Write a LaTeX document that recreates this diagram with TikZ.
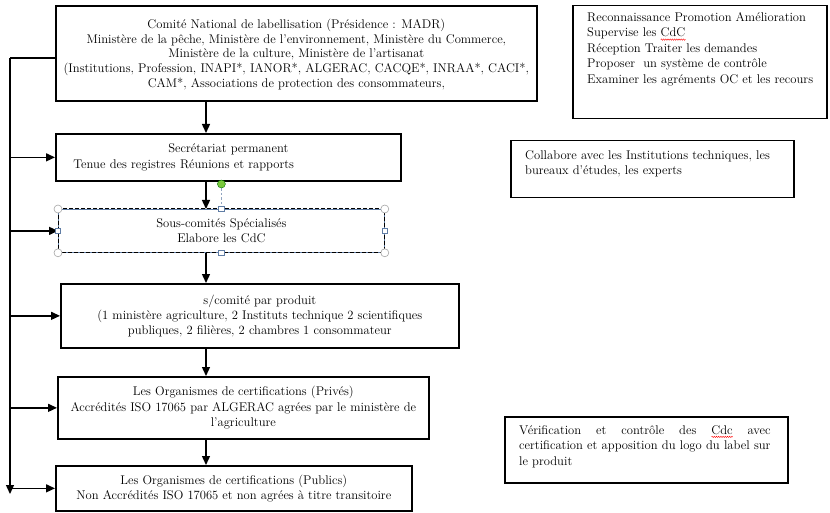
\documentclass[tikz,border=0pt]{standalone}
\usetikzlibrary{arrows.meta,decorations.pathmorphing}
\newcommand\bxf{\fontsize{12.6}{15.3}\selectfont}
\newcommand\bxfa{\fontsize{12.6}{14.8}\selectfont}
\newcommand\rxf{\fontsize{12.6}{15.6}\selectfont}
\newlength\wlen
\newcommand\rwave[1]{\settowidth\wlen{#1}\rlap{\tikz[baseline=0pt]\draw[red, line width=0.4pt, decorate, decoration={zigzag, segment length=2.2pt, amplitude=0.7pt}] (0pt,-2.8pt) -- (\wlen,-2.8pt);}#1}
\definecolor{hdl}{RGB}{96,125,165}
\definecolor{hgreen}{RGB}{122,200,60}
\newlength\rthw
\begin{document}
\settowidth\rthw{\rxf certification et apposition du logo du label sur}%
\addtolength\rthw{1pt}%
\begin{tikzpicture}[x=1pt,y=-1pt,
  bx/.style={draw, line width=1.7pt, inner sep=0pt, anchor=north west},
  rbx/.style={draw, line width=1.5pt, inner sep=0pt, anchor=north west},
  tx/.style={font=\bxf, inner sep=0pt, align=center},
  rtx/.style={font=\rxf, inner sep=0pt, align=left, anchor=north west},
  arr/.style={line width=1.4pt, -{Triangle[length=9pt,width=8pt]}},
  ln/.style={line width=1.4pt},
  crn/.style={circle, draw=gray!70, fill=white, line width=0.6pt, inner sep=0pt, minimum size=8pt},
  sqh/.style={rectangle, draw=hdl, fill=white, line width=0.6pt, inner sep=0pt, minimum size=5.5pt}]
\useasboundingbox (0,0) rectangle (830,513);
% main column boxes
\node[bx, minimum width=481pt, minimum height=95pt] (b1) at (55,5) {};
\node[bx, minimum width=345pt, minimum height=47pt] (b2) at (55,133) {};
\node[draw=hdl, line width=0.8pt, inner sep=0pt, anchor=north west, minimum width=326pt, minimum height=43pt] (b3) at (58,209) {};
\draw[line width=1pt, dash pattern=on 4pt off 2pt] (b3.north west) rectangle (b3.south east);
\node[bx, minimum width=398pt, minimum height=64pt] (b4) at (60,283) {};
\node[bx, minimum width=371pt, minimum height=62pt] (b5) at (57,376) {};
\node[bx, minimum width=356pt, minimum height=45pt] (b6) at (55,465) {};
% texts
\node[tx, font=\bxfa] (t1) at ([yshift=-1pt]b1.center) {Comité National de labellisation (Présidence : MADR)\\
Ministère de la pêche, Ministère de l’environnement, Ministère du Commerce,\\
Ministère de la culture, Ministère de l’artisanat\\
(Institutions, Profession, INAPI*, IANOR*, ALGERAC, CACQE*, INRAA*, CACI*,\\
CAM*, Associations de protection des consommateurs,};
\node[tx, text width=310pt, align=left] (t2) at (b2.center) {{\centering Secrétariat permanent\par}Tenue des registres Réunions et rapports};
\node[tx] (t3) at (b3.center) {Sous-comités Spécialisés\\Elabore les CdC};
\node[tx] (t4) at (b4.center) {s/comité par produit\\
(1 ministère agriculture, 2 Instituts technique 2 scientifiques\\
publiques, 2 filières, 2 chambres 1 consommateur};
\node[tx] (t5) at (b5.center) {Les Organismes de certifications (Privés)\\
Accrédités ISO 17065 par ALGERAC agrées par le ministère de\\
l’agriculture};
\node[tx] (t6) at (b6.center) {Les Organismes de certifications (Publics)\\
Non Accrédités ISO 17065 et non agrées à titre transitoire};
% right boxes
\node[rbx, minimum width=254pt, minimum height=113pt] (r1) at (572,5) {};
\node[rtx] (rt1) at (587,12) {Reconnaissance Promotion Amélioration\\
Supervise les \rwave{CdC}\\
Réception Traiter les demandes\\
Proposer\ \ un système de contrôle\\
Examiner les agréments OC et les recours};
\node[rbx, minimum width=283pt, minimum height=57pt] (r2) at (510,140) {};
\node[rtx] (rt2) at (525,150) {Collabore avec les Institutions techniques, les\\
bureaux d’études, les experts};
\node[rbx, minimum width=283pt, minimum height=66pt] (r3) at (504,416) {};
\node[rtx, text width=\rthw, align=justify] (rt3) at (519,425) {Vérification et contrôle des \rwave{Cdc} avec\linebreak
certification et apposition du logo du label sur\linebreak
le produit};
% vertical arrows in the column
\coordinate (ax) at (206,0);
\draw[arr] (b1.south -| ax) -- (b2.north -| ax);
\draw[arr] (b2.south -| ax) -- (b3.north -| ax);
\draw[arr] (b3.south -| ax) -- (b4.north -| ax);
\draw[arr] (b4.south -| ax) -- (b5.north -| ax);
\draw[arr] (b5.south -| ax) -- (b6.north -| ax);
% left bus
\coordinate (Ltop) at (10,58);
\coordinate (Lbot) at (10,494);
\draw[ln] (b1.west |- Ltop) -- (Ltop);
\draw[arr] (Ltop) -- (Lbot);
\draw[arr] (Ltop |- b2.west) -- (b2.west);
\draw[arr] (Ltop |- b3.west) -- (b3.west);
\draw[arr] (Ltop |- b4.west) -- (b4.west);
\draw[arr] (Ltop |- b5.west) -- (b5.west);
\draw[arr] (Ltop |- b6.west) -- (b6.west);
% selection handles on b3
\coordinate (rot) at ([yshift=25pt]b3.north);
\draw[hdl!70, line width=0.8pt, dash pattern=on 2.5pt off 2pt] (rot) -- (b3.north);
\node[circle, draw=green!45!black, fill=hgreen, inner sep=0pt, minimum size=8pt] (h0) at (rot) {};
\node[crn] (h1) at (b3.north west) {};
\node[crn] (h2) at (b3.north east) {};
\node[crn] (h3) at (b3.south west) {};
\node[crn] (h4) at (b3.south east) {};
\node[sqh] (h5) at (b3.north) {};
\node[sqh] (h6) at (b3.south) {};
\node[sqh] (h7) at (b3.west) {};
\node[sqh] (h8) at (b3.east) {};
\end{tikzpicture}
\end{document}
